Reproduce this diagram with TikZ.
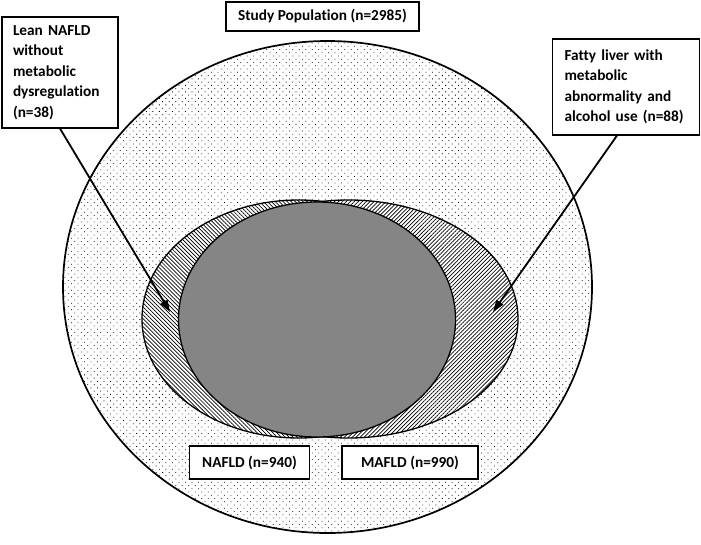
\documentclass[tikz,border=0pt]{standalone}
\usepackage{fontspec}
\setmainfont{Carlito}[Ligatures=NoCommon]
\usetikzlibrary{patterns.meta,arrows.meta,shapes.geometric}
\definecolor{midgray}{RGB}{133,133,133}
\begin{document}
\begin{tikzpicture}[x=1pt,y=-1pt,
  lbl/.style={draw=black, line width=1.1pt, fill=white, font=\bfseries\fontsize{15.3}{20.5}\selectfont, inner sep=0pt},
  ptr/.style={line width=1.8pt, -{Triangle[length=12pt,width=8pt]}},
  setshape/.style={ellipse, inner sep=0pt, preaction={fill=white}},
  outline/.style={line width=1.3pt},
]
\fill[white] (0,0) rectangle (701,544);
\useasboundingbox (0,0) rectangle (701,544);
% study population
\node[setshape, minimum width=529pt, minimum height=492pt,
  pattern={Dots[distance=4.6pt,angle=45,radius=0.55pt]}, pattern color=black] (pop) at (327.5,287) {};
\draw[line width=1.7pt] (pop.center) ellipse [x radius=264.5pt, y radius=246pt];
% NAFLD and MAFLD
\node[setshape, minimum width=313pt, minimum height=238pt,
  pattern={Lines[distance=2.8pt,angle=-45,line width=0.7pt]}, pattern color=black] (nafld) at (298.5,319) {};
\draw[outline] (nafld.center) ellipse [x radius=156.5pt, y radius=119pt];
\node[setshape, minimum width=339pt, minimum height=238pt,
  pattern={Lines[distance=2.8pt,angle=45,line width=0.7pt]}, pattern color=black] (mafld) at (348.5,319) {};
\draw[outline] (mafld.center) ellipse [x radius=169.5pt, y radius=119pt];
% overlap
\node[ellipse, inner sep=0pt, minimum width=277pt, minimum height=235pt, fill=midgray, draw, line width=1.3pt] (both) at (317,319.5) {};
% labels
\node[lbl, minimum width=193pt, minimum height=29pt] (study) at (322.5,16.5) {Study Population (n=2985)};
\node[lbl, text width=94pt, align=left, minimum height=111pt, inner xsep=11pt] (lean) at (60,72.5)
  {Lean NAFLD\\without\\metabolic\\dysregulation\\(n=38)};
\node[lbl, text width=123pt, align=left, minimum height=96pt, inner xsep=12pt] (fatty) at (626,87)
  {Fatty liver with\\metabolic\\abnormality and\\alcohol use (n=88)};
\node[lbl, minimum width=120pt, minimum height=33pt] (nafldlbl) at (249.5,462.5) {NAFLD (n=940)};
\node[lbl, minimum width=136pt, minimum height=33pt] (mafldlbl) at (410,462.5) {MAFLD (n=990)};
% arrows
\coordinate (leantip) at (170,312);
\coordinate (fattytip) at (493,312);
\draw[ptr] (lean.south) -- (leantip);
\draw[ptr] ([xshift=-9pt]fatty.south) -- (fattytip);
\end{tikzpicture}
\end{document}
